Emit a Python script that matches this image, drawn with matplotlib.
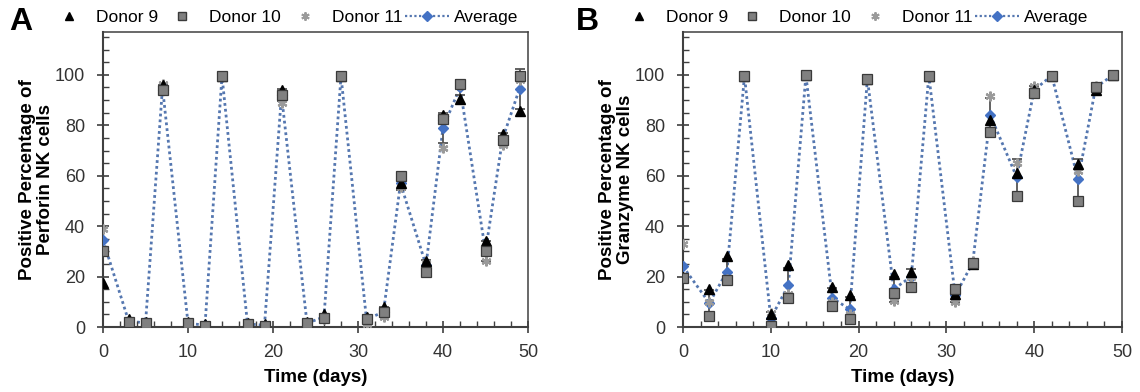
import matplotlib
matplotlib.use("Agg")
import matplotlib.pyplot as plt
from matplotlib.ticker import MultipleLocator
from matplotlib.lines import Line2D

plt.rcParams['font.family'] = ['Liberation Sans', 'DejaVu Sans']

days = [0, 3, 5, 7, 10, 12, 14, 17, 19, 21, 24, 26, 28, 31, 33, 35, 38, 40, 42, 45, 47, 49]

# Panel A: Perforin
d9_A = [17.5, 3, 2, 96, 2, 1, 99.5, 1.5, 1, 94, 2, 5, 99.5, 4, 8, 57, 26, 84, 90.5, 34, 76.5, 85.5]
d10_A = [30, 2, 1.5, 94, 1.5, 0.5, 99.5, 1, 0.5, 92, 1.5, 3.5, 99.5, 3, 6, 60, 22, 82.5, 96.5, 30, 74, 99.5]
d11_A = [39, 2.5, 1.5, 96.5, 1, 0.5, 99.5, 1, 0.5, 89, 1, 3, 99.5, 1, 4, 55.5, 25.5, 71, 96, 26, 72, 98]
avg_A = [34.5, 2.5, 1.5, 95, 1.5, 0.7, 99.5, 1.2, 0.7, 92, 1.5, 4, 99.5, 3, 6, 57, 24.5, 79, 95, 30, 74.5, 94.5]
err_A = [0, 0.5, 0.5, 1, 0.5, 0.3, 0.3, 0.3, 0.3, 2.5, 0.5, 1, 0.3, 1.5, 2, 2.5, 2, 6, 3, 4, 2.5, 8]

# Panel B: Granzyme
d9_B = [20, 15, 28, 99.5, 5, 24.5, 99.8, 16, 12.5, 98.5, 21, 22, 99.7, 13, 25, 82, 61, 94, 99.7, 64.5, 94, 100]
d10_B = [19.5, 4.5, 18.5, 99.5, 0.5, 11.5, 99.8, 8.5, 3, 98.5, 13.5, 16, 99.7, 15, 25.5, 77.5, 52, 93, 99.7, 50, 95, 100]
d11_B = [33, 10, 19, 99.5, 5.5, 13, 99.8, 10, 5, 98.5, 10.5, 20, 99.7, 10, 26, 91.5, 65, 95.5, 99.7, 62, 95.5, 100]
avg_B = [24, 9.5, 22, 99.5, 3.5, 16.5, 99.8, 11.5, 7, 98.5, 15, 20, 99.7, 12.5, 25.5, 84, 59.5, 94, 99.7, 58.5, 95, 100]
err_B = [0, 5, 5, 0.3, 2.5, 7, 0.3, 4, 5, 0.5, 5, 3, 0.3, 2.5, 1, 7, 7, 1.5, 0.3, 8, 1, 0.3]

series_labels = ['Donor 9', 'Donor 10', 'Donor 11', 'Average']
panel_letters = ['A', 'B']
ylabels = ['Positive Percentage of\nPerforin NK cells', 'Positive Percentage of\nGranzyme NK cells']
xlabel = 'Time (days)'
yticks = [0, 20, 40, 60, 80, 100]
xticks = [0, 10, 20, 30, 40, 50]

AVG_LINE = '#5577b0'
AVG_MARK = '#4472C4'
SQ_FACE = '#808080'
SQ_EDGE = '#3a3a3a'
AST = '#9a9a9a'
ERR = '#555555'
AX = '#404040'

fig = plt.figure(figsize=(11.4, 3.92), dpi=100)
H = 392.0
W = 1140.0
axes_px = [(103, 528), (683, 1122)]
top_px, bot_px = 32, 327

panels = [(d9_A, d10_A, d11_A, avg_A, err_A), (d9_B, d10_B, d11_B, avg_B, err_B)]
legend_x = [47, 617]
letter_x = [9, 576]

for i, (d9, d10, d11, avg, err) in enumerate(panels):
    l, r = axes_px[i]
    ax = fig.add_axes([l / W, 1 - bot_px / H, (r - l) / W, (bot_px - top_px) / H])
    ax.errorbar(days, avg, yerr=err, fmt='none', ecolor=ERR, elinewidth=1.3,
                capsize=3.5, capthick=1.3, zorder=2)
    ax.plot(days, avg, linestyle=(0, (1, 1.1)), color=AVG_LINE, lw=2.0, zorder=1)
    ax.plot(days, avg, linestyle='none', marker='D', ms=5.5, color=AVG_MARK,
            mec=AVG_MARK, zorder=3)
    ax.plot(days, d11, linestyle='none', marker=(6, 2, 0), ms=7, color=AST,
            mew=1.6, zorder=4)
    ax.plot(days, d9, linestyle='none', marker='^', ms=6.5, color='black', zorder=5)
    ax.plot(days, d10, linestyle='none', marker='s', ms=6.5, mfc=SQ_FACE,
            mec=SQ_EDGE, mew=0.9, zorder=6)

    ax.set_xlim(0, 50)
    ax.set_ylim(0, 117)
    ax.set_xticks(xticks)
    ax.set_yticks(yticks)
    ax.xaxis.set_minor_locator(MultipleLocator(2))
    ax.yaxis.set_minor_locator(MultipleLocator(5))
    ax.tick_params(which='major', direction='inout', length=8, width=1.2,
                   color=AX, labelsize=13, labelcolor='#333333')
    ax.tick_params(axis='y', which='major', pad=9)
    ax.tick_params(axis='x', which='major', pad=8)
    ax.tick_params(which='minor', direction='in', length=4, width=1.0, color=AX)
    for s in ['left', 'bottom']:
        ax.spines[s].set_linewidth(1.5)
        ax.spines[s].set_color(AX)
    for s in ['top', 'right']:
        ax.spines[s].set_linewidth(1.1)
        ax.spines[s].set_color(AX)
    ax.set_xlabel(xlabel, fontsize=13.5, fontweight='bold', labelpad=6)
    ax.set_ylabel(ylabels[i], fontsize=13.5, fontweight='bold', labelpad=0.5,
                  linespacing=1.05)

    handles = [
        Line2D([], [], linestyle='none', marker='^', ms=6, color='black'),
        Line2D([], [], linestyle='none', marker='s', ms=6, mfc=SQ_FACE, mec=SQ_EDGE),
        Line2D([], [], linestyle='none', marker=(6, 2, 0), ms=6, color=AST, mew=1.4),
        Line2D([], [], linestyle=(0, (1, 1.1)), color=AVG_LINE, lw=1.6,
               marker='D', ms=5, mfc=AVG_MARK, mec=AVG_MARK),
    ]
    fig.legend(handles, series_labels, loc='center left',
               bbox_to_anchor=(legend_x[i] / W, 1 - 17 / H), ncol=4,
               frameon=False, fontsize=12.5, handlelength=2.5, handletextpad=0.3,
               columnspacing=0.15, borderpad=0, borderaxespad=0)
    fig.text(letter_x[i] / W, 1 - 22 / H, panel_letters[i], fontsize=23,
             fontweight='bold', va='center', ha='left')

fig.savefig('out.png', dpi=100)
